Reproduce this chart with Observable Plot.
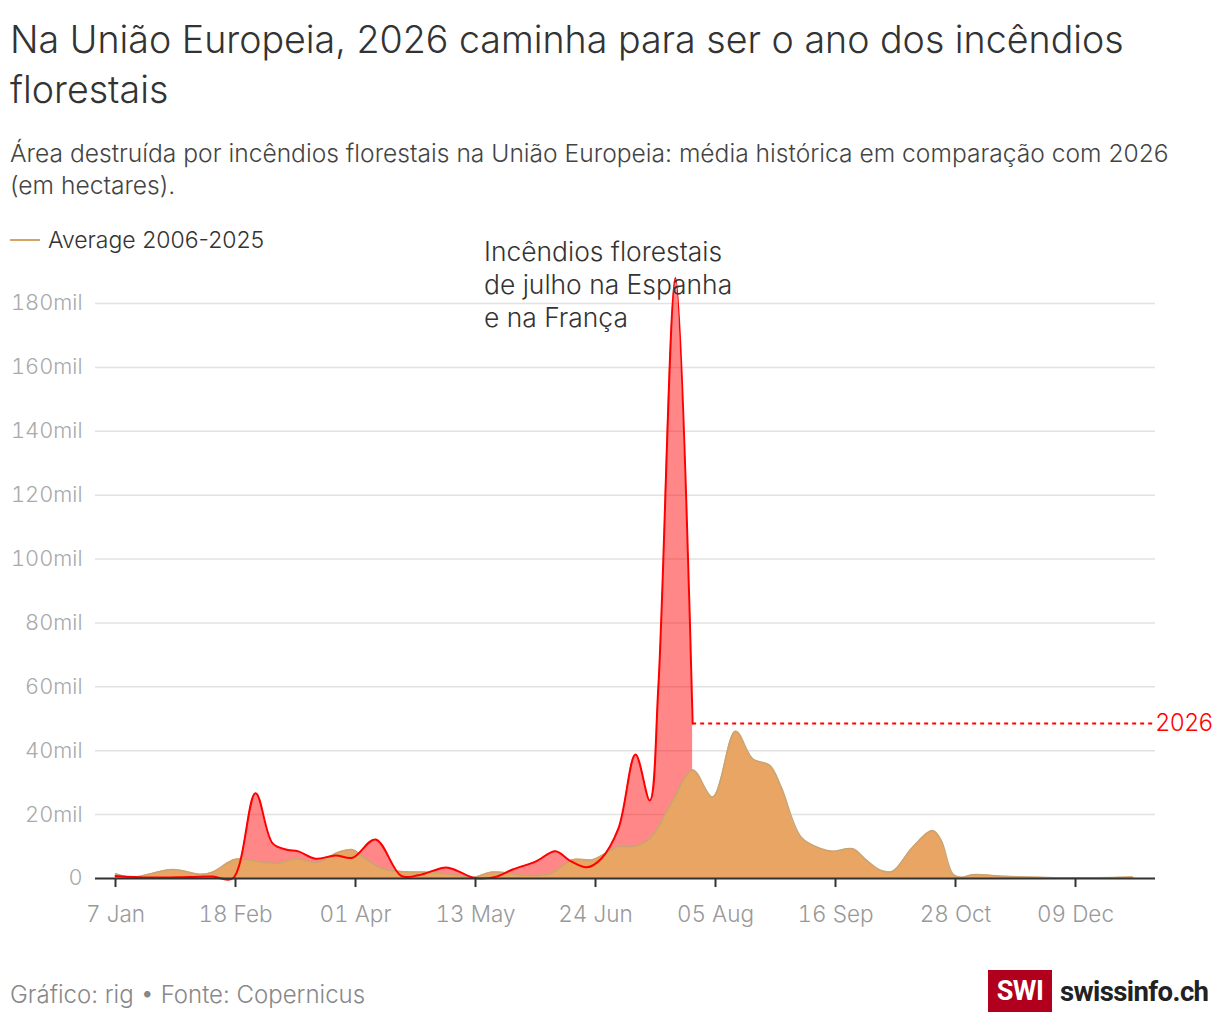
<!DOCTYPE html>
<html>
<head>
<meta charset="utf-8">
<script src="https://cdn.jsdelivr.net/npm/d3@7"></script>
<script src="https://cdn.jsdelivr.net/npm/@observablehq/plot@0.6"></script>
<style>
  html, body { margin: 0; padding: 0; background: #fff; }
  body { width: 1220px; height: 1028px; position: relative; font-family: Inter, Roboto, sans-serif; color: #333; overflow: hidden; }
  #title { position: absolute; left: 10px; top: 15px; width: 1200px; font-size: 37.6px; line-height: 50px; font-weight: 300; color: #333; }
  #subtitle { position: absolute; left: 10px; top: 137px; width: 1180px; font-size: 24.6px; line-height: 32px; font-weight: 300; color: #444; }
  #legend { position: absolute; left: 10px; top: 225px; font-size: 23px; line-height: 30px; font-weight: 300; color: #333; display: flex; align-items: center; z-index: 2; }
  #legend .sw { width: 30px; height: 0; border-top: 2px solid #d4a366; margin-right: 8px; }
  #chart { position: absolute; left: 0; top: 228px; }
  #footer { position: absolute; left: 10px; top: 979px; font-size: 24px; line-height: 32px; font-weight: 300; color: #888; white-space: nowrap; }
  #logo { position: absolute; left: 988px; top: 970px; height: 42px; display: flex; align-items: center; white-space: nowrap; }
  #logo .box { width: 64px; height: 42px; background: #b0001e; color: #fff; font-weight: 700; font-size: 27px; display: flex; align-items: center; justify-content: center; font-family: Roboto, sans-serif; letter-spacing: -0.5px; }
  #logo .txt { margin-left: 8px; font-weight: 700; font-size: 27.5px; color: #222; font-family: Roboto, sans-serif; letter-spacing: -0.6px; }
</style>
</head>
<body>
<div id="title">Na União Europeia, 2026 caminha para ser o ano dos incêndios florestais</div>
<div id="subtitle">Área destruída por incêndios florestais na União Europeia: média histórica em comparação com 2026 (em hectares).</div>
<div id="legend"><span class="sw"></span><span>Average 2006-2025</span></div>
<div id="chart"></div>
<div id="footer">Gráfico: rig • Fonte: Copernicus</div>
<div id="logo"><div class="box">SWI</div><div class="txt">swissinfo.ch</div></div>
<script>
// 2026 burnt area (hectares)
const fireDates = ["2026-01-07","2026-01-19","2026-02-02","2026-02-10","2026-02-17","2026-02-25","2026-03-03","2026-03-08","2026-03-12","2026-03-18","2026-03-25","2026-03-31","2026-04-08","2026-04-17","2026-04-23","2026-05-02","2026-05-05","2026-05-12","2026-05-15","2026-05-20","2026-05-26","2026-06-03","2026-06-10","2026-06-15","2026-06-21","2026-06-26","2026-07-02","2026-07-08","2026-07-13","2026-07-16","2026-07-22","2026-07-28"];
const fireValues = [800,300,500,600,0,26700,11000,9000,8500,6200,7200,6500,12200,800,1000,3400,3000,300,0,500,2800,5300,8500,5600,3500,6200,15600,38800,24400,60000,188000,48500];

// Average 2006-2025 (hectares)
const avgDates = ["2026-01-07","2026-01-13","2026-01-27","2026-02-06","2026-02-10","2026-02-18","2026-02-28","2026-03-05","2026-03-11","2026-03-19","2026-03-26","2026-03-31","2026-04-03","2026-04-10","2026-04-17","2026-04-25","2026-05-07","2026-05-12","2026-05-19","2026-05-31","2026-06-08","2026-06-16","2026-06-23","2026-07-02","2026-07-07","2026-07-13","2026-07-21","2026-07-28","2026-08-04","2026-08-12","2026-08-18","2026-08-24","2026-08-28","2026-09-04","2026-09-11","2026-09-15","2026-09-22","2026-09-27","2026-10-02","2026-10-06","2026-10-13","2026-10-20","2026-10-23","2026-10-27","2026-10-30","2026-11-03","2026-11-14","2026-11-26","2026-12-08","2026-12-29"];
const avgValues = [1500,400,2800,1300,2000,6000,5100,4800,6200,5100,8200,9000,7200,3300,2200,2000,1000,300,2000,1000,1500,5900,5900,10000,10000,12500,24400,34000,25500,46100,37500,35400,28600,12900,9300,8500,9300,5600,2500,2300,9800,15000,11900,1500,400,1200,700,400,200,500];

// Axes
const xDomain = ["2025-12-31","2027-01-06"];
const xTickDates = ["2026-01-07","2026-02-18","2026-04-01","2026-05-13","2026-06-24","2026-08-05","2026-09-16","2026-10-28","2026-12-09"];
const xTickLabels = ["7 Jan","18 Feb","01 Apr","13 May","24 Jun","05 Aug","16 Sep","28 Oct","09 Dec"];
const yTicks = [0,20000,40000,60000,80000,100000,120000,140000,160000,180000];
const yTickLabels = ["0","20mil","40mil","60mil","80mil","100mil","120mil","140mil","160mil","180mil"];

// Annotation
const annotationText = ["Incêndios florestais", "de julho na Espanha", "e na França"];
const annotationDate = "2026-05-16";
const annotationValue = 186300;
const seriesLabel = "2026";

const parse = d3.utcParse("%Y-%m-%d");
const fire = fireDates.map((d, i) => ({date: parse(d), value: fireValues[i]}));
const avg = avgDates.map((d, i) => ({date: parse(d), value: avgValues[i]}));
const xd = xDomain.map(parse);
const xt = xTickDates.map(parse);
const xLabelMap = new Map(xt.map((d, i) => [+d, xTickLabels[i]]));
const yLabelMap = new Map(yTicks.map((d, i) => [d, yTickLabels[i]]));
const last = fire[fire.length - 1];
const dotted = [{x1: last.date, x2: xd[1], y: last.value}];

const plot = Plot.plot({
  width: 1220,
  height: 722,
  marginLeft: 95,
  marginRight: 65,
  marginTop: 75,
  marginBottom: 72,
  style: {fontFamily: "Inter, Roboto, sans-serif", fontSize: "20px", background: "transparent", overflow: "visible"},
  x: {type: "utc", domain: xd},
  y: {domain: [0, 180000]},
  marks: [
    Plot.gridY(yTicks, {stroke: "#e2e2e2", strokeOpacity: 1, strokeWidth: 1.5}),
    Plot.axisY(yTicks, {tickSize: 0, tickPadding: 13, tickFormat: d => yLabelMap.get(d), fill: "#aaa", fontWeight: 300, label: null, fontSize: 21.8}),
    Plot.areaY(fire, {x: "date", y: "value", fill: "#ff0000", fillOpacity: 0.47, curve: "catmull-rom"}),
    Plot.areaY(avg, {x: "date", y: "value", fill: "#e8a564", fillOpacity: 1, curve: "catmull-rom"}),
    Plot.lineY(avg, {x: "date", y: "value", stroke: "#c9a472", strokeWidth: 1.5, curve: "catmull-rom"}),
    Plot.lineY(fire, {x: "date", y: "value", stroke: "#ff0000", strokeWidth: 2, curve: "catmull-rom"}),
    Plot.ruleY(dotted, {x1: "x1", x2: "x2", y: "y", stroke: "#ff0000", strokeWidth: 2, strokeDasharray: "4,4"}),
    Plot.text(dotted, {x: "x2", y: "y", text: () => seriesLabel, textAnchor: "start", dx: 0, fill: "#ff0000", fontSize: 23.5, fontWeight: 300}),
    Plot.text([{date: parse(annotationDate), value: annotationValue}], {x: "date", y: "value", text: () => annotationText.join("\n"), textAnchor: "start", lineAnchor: "middle", lineHeight: 1.25, fontSize: 26.4, fontWeight: 300, fill: "#333"}),
    Plot.ruleY([0], {stroke: "#333", strokeWidth: 2}),
    Plot.axisX(xt, {tickSize: 9, tickPadding: 19, stroke: "#333", strokeWidth: 2, tickFormat: d => xLabelMap.get(+d), fill: "#999", fontWeight: 300, label: null, fontSize: 22.5})
  ]
});
document.getElementById("chart").appendChild(plot);
</script>
</body>
</html>
